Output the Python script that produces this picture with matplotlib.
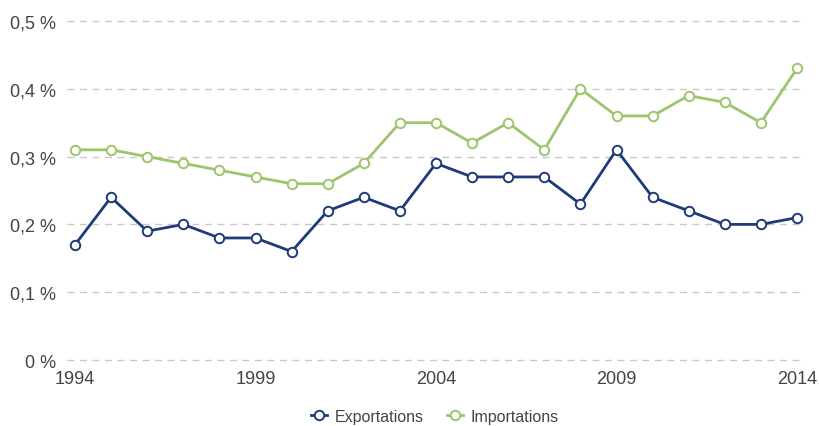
import matplotlib.pyplot as plt
from matplotlib.ticker import FuncFormatter

plt.rcParams['font.family'] = ['Liberation Sans', 'DejaVu Sans']

years = list(range(1994, 2015))
exportations = [0.17, 0.24, 0.19, 0.20, 0.18, 0.18, 0.16, 0.22, 0.24, 0.22, 0.29,
                0.27, 0.27, 0.27, 0.23, 0.31, 0.24, 0.22, 0.20, 0.20, 0.21]
importations = [0.31, 0.31, 0.30, 0.29, 0.28, 0.27, 0.26, 0.26, 0.29, 0.35, 0.35,
                0.32, 0.35, 0.31, 0.40, 0.36, 0.36, 0.39, 0.38, 0.35, 0.43]
x_ticks = [1994, 1999, 2004, 2009, 2014]
y_ticks = [0, 0.1, 0.2, 0.3, 0.4, 0.5]

navy = '#1f3a78'
green = '#9cc56c'

fig = plt.figure(figsize=(8.19, 4.27), dpi=100)
ax = fig.add_axes([67 / 819, 1 - 361 / 427, (805 - 67) / 819, (361 - 22) / 427])

ax.plot(years, importations, color=green, lw=2.0, marker='o', ms=6.8,
        mfc='white', mec=green, mew=1.4, label='Importations', zorder=3)
ax.plot(years, exportations, color=navy, lw=2.0, marker='o', ms=6.8,
        mfc='white', mec=navy, mew=1.4, label='Exportations', zorder=4)

ax.set_xlim(1994 - 8 / 36.1, 2014 + 8 / 36.1)
ax.set_ylim(0, 0.5)
ax.set_xticks(x_ticks)
ax.set_yticks(y_ticks)

def pct(v, pos):
    s = f'{v:.1f}'.replace('.', ',') if v > 0 else '0'
    return s + ' %'

ax.yaxis.set_major_formatter(FuncFormatter(pct))
ax.grid(axis='y', color='#c8c8c8', linestyle=(0, (5, 4)), lw=1)
for gl in ax.get_ygridlines():
    gl.set_clip_on(False)
ax.set_axisbelow(True)
for s in ax.spines.values():
    s.set_visible(False)
ax.tick_params(axis='both', length=0, labelsize=13, labelcolor='#444444')
ax.tick_params(axis='y', pad=8)
ax.tick_params(axis='x', pad=7)

handles, labels = ax.get_legend_handles_labels()
fig.legend(handles[::-1], labels[::-1], loc='lower center', ncol=2, frameon=False,
           bbox_to_anchor=(0.531, -0.028), fontsize=11.5, handlelength=1.0,
           columnspacing=1.45, handletextpad=0.5, labelcolor='#444444')

fig.savefig('out.png', dpi=100)
